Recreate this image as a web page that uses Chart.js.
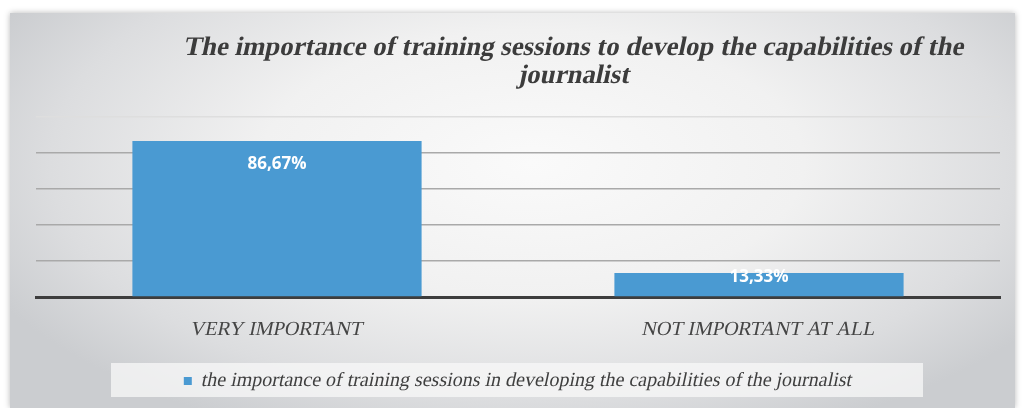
<!DOCTYPE html>
<html>
<head>
<meta charset="utf-8">
<script src="https://cdn.jsdelivr.net/npm/chart.js@4"></script>
<style>
    html, body { margin: 0; padding: 0; background: #ffffff; }
    #frame {
        position: absolute;
        left: 10px;
        top: 13px;
        width: 1005px;
        height: 395px;
        background: radial-gradient(ellipse 60% 75% at 52% 38%, #fafafa 0%, #f1f1f1 45%, #dcdddf 80%, #cbcdd0 100%);
        box-shadow: 0 0 6px rgba(0, 0, 0, 0.28);
    }
</style>
</head>
<body>
<div id="frame"><canvas id="trainingChart" width="1005" height="395"></canvas></div>
<script>
const categories = ['VERY IMPORTANT', 'NOT IMPORTANT AT ALL'];
const shares = [86.67, 13.33];
const valueLabels = ['86,67%', '13,33%'];
const seriesName = 'the importance of training sessions in developing the capabilities of the journalist';
const titleLines = ['The importance of training sessions to develop the capabilities of the', 'journalist'];

const serif = "'Liberation Serif', 'Times New Roman', serif";

// italic serif doesn't come out on the canvas here, so slant the regular face instead
const slantPlugin = {
    id: 'slant',
    beforeInit(chart) {
        const c = chart.ctx;
        const base = c.fillText.bind(c);
        c.fillText = function (text, x, y, maxWidth) {
            if (!/Liberation Serif/.test(c.font)) {
                return maxWidth === undefined ? base(text, x, y) : base(text, x, y, maxWidth);
            }
            c.save();
            c.translate(x, y);
            c.transform(1, 0, -0.21, 1, 0, 0);
            if (maxWidth === undefined) base(text, 0, 0); else base(text, 0, 0, maxWidth);
            c.restore();
        };
    }
};

// title drawn by hand so it can sit right of centre like the original
const titlePlugin = {
    id: 'sideTitle',
    afterDraw(chart) {
        const { ctx } = chart;
        ctx.save();
        ctx.font = 'bold 26px ' + serif;
        const w = ctx.measureText(titleLines[0]).width;
        const size = Math.min(30, 26 * 780 / w);
        ctx.font = 'bold ' + size.toFixed(1) + 'px ' + serif;
        ctx.fillStyle = '#3c3c3c';
        ctx.textAlign = 'center';
        ctx.textBaseline = 'alphabetic';
        ctx.fillText(titleLines[0], 563, 42);
        ctx.fillText(titleLines[1], 563, 70);
        ctx.restore();
    }
};

// white value text near the top of each bar
const valueLabelPlugin = {
    id: 'valueLabels',
    afterDatasetsDraw(chart) {
        const { ctx } = chart;
        const meta = chart.getDatasetMeta(0);
        ctx.save();
        ctx.font = 'bold 17px "Open Sans", sans-serif';
        ctx.fillStyle = '#ffffff';
        ctx.textAlign = 'center';
        ctx.textBaseline = 'middle';
        meta.data.forEach((bar, i) => {
            const h = bar.base - bar.y;
            const off = Math.min(23, h / 2 - 7);
            ctx.fillText(valueLabels[i], bar.x, bar.y + off);
        });
        ctx.restore();
    }
};

// pale panel behind the legend
const legendPanelPlugin = {
    id: 'legendPanel',
    beforeDraw(chart) {
        const { ctx } = chart;
        ctx.save();
        ctx.fillStyle = 'rgba(248, 248, 248, 0.75)';
        ctx.fillRect(101, 350, 812, 34);
        ctx.restore();
    }
};

const ctx = document.getElementById('trainingChart').getContext('2d');

new Chart(ctx, {
    type: 'bar',
    data: {
        labels: categories,
        datasets: [{
            label: seriesName,
            data: shares,
            backgroundColor: '#4a9ad2',
            categoryPercentage: 0.6,
            barPercentage: 1.0
        }]
    },
    options: {
        responsive: false,
        animation: false,
        layout: {
            padding: { left: 26, right: 15, top: 104, bottom: 7 }
        },
        plugins: {
            title: { display: false },
            legend: {
                position: 'bottom',
                labels: {
                    color: '#3f3f3f',
                    font: { family: serif, size: 20 },
                    boxWidth: 8,
                    boxHeight: 8,
                    padding: 12
                }
            },
            tooltip: { enabled: false }
        },
        scales: {
            x: {
                grid: { display: false },
                border: { display: true, color: '#3d3d3d', width: 3 },
                ticks: {
                    color: '#454545',
                    font: { family: serif, size: 20 },
                    padding: 13
                },
                afterFit(scale) {
                    scale.height = 62;
                }
            },
            y: {
                min: 0,
                max: 100,
                ticks: { display: false, stepSize: 20 },
                border: { display: false },
                grid: {
                    drawTicks: false,
                    lineWidth: 1.5,
                    color: function (c) {
                        if (c.tick.value === 0) return 'rgba(0,0,0,0)';
                        if (c.tick.value === 100) return '#dedede';
                        return '#a9a9a9';
                    }
                }
            }
        }
    },
    plugins: [slantPlugin, legendPanelPlugin, valueLabelPlugin, titlePlugin]
});
</script>
</body>
</html>
